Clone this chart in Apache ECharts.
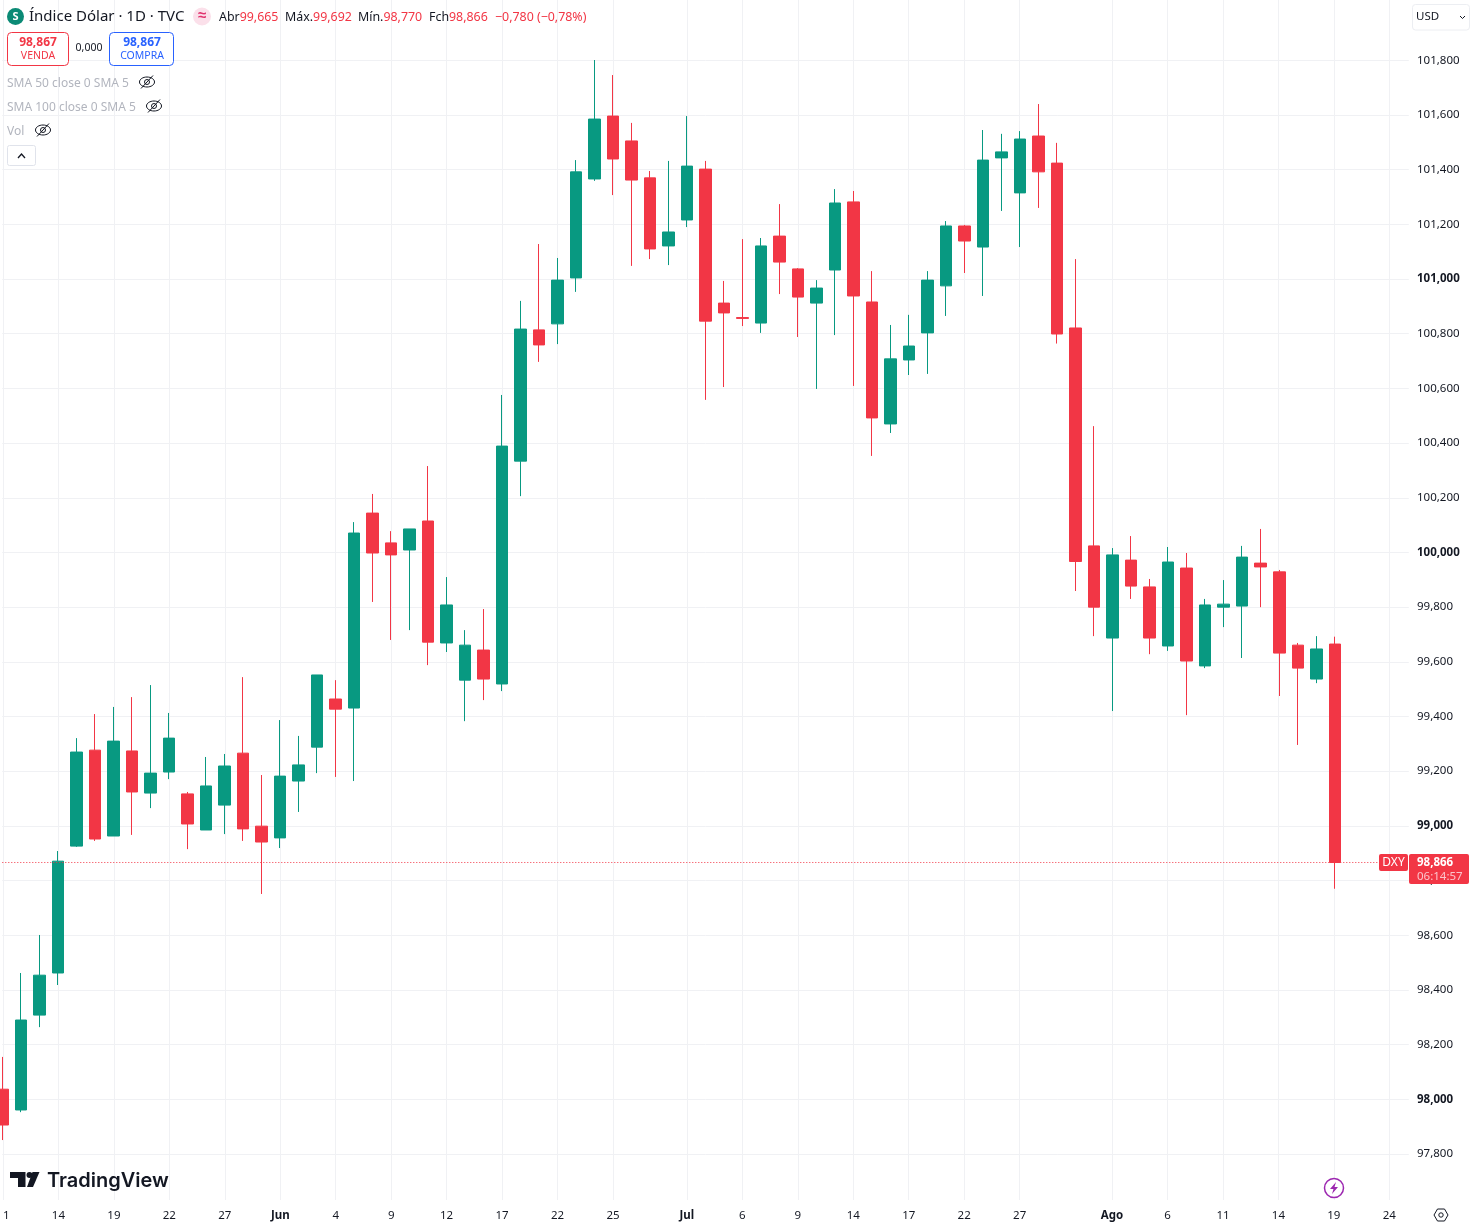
<!DOCTYPE html>
<html>
<head>
<meta charset="utf-8">
<title>Índice Dólar · 1D · TVC</title>
<script src="https://cdn.jsdelivr.net/npm/echarts@6/dist/echarts.min.js"></script>
<style>html,body{margin:0;padding:0;background:#fff}#c{width:1473px;height:1227px}</style>
</head>
<body>
<div id="c"></div>
<script>
const categories = ['1','','','14','','','19','','','22','','','27','','','Jun','','','4','','','9','','','12','','','17','','','22','','','25','','','','Jul','','','6','','','9','','','14','','','17','','','22','','','27','','','','','Ago','','','6','','','11','','','14','','','19','','','24',''];
const monthLabels = ['Jun','Jul','Ago'];
const opens = [98.037,97.961,98.308,98.462,98.926,99.277,98.963,99.274,99.120,99.197,99.117,98.985,99.076,99.266,98.999,98.956,99.164,99.288,99.464,99.431,100.144,100.035,100.009,100.115,99.669,99.533,99.643,99.519,100.334,100.814,100.836,101.004,101.366,101.596,101.505,101.370,101.121,101.216,101.402,100.912,100.859,100.839,101.157,101.037,100.912,101.033,101.282,100.916,100.470,100.704,100.803,100.975,101.194,101.117,101.443,101.315,101.523,101.424,100.821,100.024,99.687,99.972,99.874,99.658,99.943,99.585,99.800,99.804,99.961,99.929,99.661,99.537,99.665];
const closes = [97.906,98.290,98.454,98.871,99.270,98.952,99.310,99.124,99.193,99.321,99.007,99.146,99.219,98.989,98.941,99.182,99.223,99.552,99.427,100.071,99.998,99.991,100.086,99.672,99.808,99.661,99.537,100.389,100.817,100.759,100.996,101.392,101.585,101.439,101.362,101.110,101.172,101.413,100.846,100.876,100.856,101.121,101.062,100.934,100.967,101.278,100.938,100.492,100.708,100.755,100.996,101.194,101.139,101.435,101.465,101.512,101.392,100.799,99.967,99.800,99.991,99.877,99.687,99.965,99.603,99.808,99.811,99.983,99.947,99.632,99.577,99.647,98.866];
const lows = [97.851,97.953,98.264,98.418,98.923,98.945,98.963,98.967,99.065,99.171,98.915,98.985,98.970,98.945,98.751,98.919,99.051,99.193,99.179,99.164,99.819,99.680,99.716,99.588,99.636,99.383,99.460,99.493,100.206,100.697,100.762,100.953,101.359,101.307,101.048,101.073,101.051,101.190,100.558,100.605,100.828,100.803,100.945,100.788,100.598,100.795,100.609,100.353,100.437,100.649,100.653,100.865,101.022,100.938,101.249,101.117,101.260,100.764,99.859,99.694,99.420,99.830,99.628,99.640,99.405,99.577,99.727,99.614,99.800,99.475,99.296,99.522,98.770];
const highs = [98.155,98.462,98.601,98.908,99.321,99.409,99.435,99.471,99.515,99.413,99.124,99.252,99.263,99.544,99.186,99.387,99.329,99.552,99.533,100.111,100.214,100.078,100.086,100.316,99.910,99.716,99.793,100.576,100.920,101.128,101.077,101.435,101.801,101.746,101.571,101.395,101.432,101.596,101.432,100.993,101.146,101.150,101.274,101.040,100.996,101.329,101.322,101.029,100.832,100.869,101.029,101.212,101.198,101.545,101.531,101.541,101.640,101.498,101.073,100.462,100.016,100.060,99.903,100.020,99.998,99.830,99.899,100.024,100.086,99.936,99.669,99.694,99.692];
const lastPrice = 98.866;

const UP = '#089981', DOWN = '#f23645', INK = '#131722', FAINT = '#b2b5be', GRIDLINE = '#f0f1f4';
const UI_FONT = '"Noto Sans", sans-serif';
const candles = opens.map((o, i) => [o, closes[i], lows[i], highs[i]]);
const fmt = v => v.toFixed(3).replace('.', ',');

function label(x, y, text, fill, size, extra) {
  return {type:'text', x, y, silent:true, z:100, style:Object.assign({text, fill, font:`${size}px ${UI_FONT}`, textVerticalAlign:'middle'}, extra||{})};
}
function pair(x, key, val) {
  return {type:'text', x, y:17, silent:true, z:100, style:{
    text:`{k|${key}}{r|${val}}`, textVerticalAlign:'middle',
    rich:{k:{fill:INK, font:`12.4px ${UI_FONT}`}, r:{fill:DOWN, font:`12.4px ${UI_FONT}`}}}};
}
function eye(cx, cy) {
  return [
    {type:'ellipse', silent:true, z:100, shape:{cx, cy, rx:7.5, ry:5}, style:{fill:null, stroke:INK, lineWidth:1}},
    {type:'circle', silent:true, z:100, shape:{cx, cy, r:2.5}, style:{fill:null, stroke:INK, lineWidth:1}},
    {type:'line', silent:true, z:100, shape:{x1:cx-6, y1:cy+6.5, x2:cx+6, y2:cy-6.5}, style:{stroke:INK, lineWidth:1}}
  ];
}

const graphics = [
  {type:'circle', silent:true, z:100, shape:{cx:15.5, cy:16.5, r:8.5}, style:{fill:'#0b8a75'}},
  label(15.5, 16.5, 'S', '#fff', 11, {textAlign:'center', font:`bold 11px ${UI_FONT}`}),
  label(29, 17, 'Índice Dólar · 1D · TVC', INK, 15),
  {type:'circle', silent:true, z:100, shape:{cx:202, cy:16.5, r:9}, style:{fill:'#fbe0ea'}},
  label(202, 16, '≈', '#e0336e', 15, {textAlign:'center', font:`bold 15px ${UI_FONT}`}),
  pair(219, 'Abr', '99,665'),
  pair(285, 'Máx.', '99,692'),
  pair(358, 'Mín.', '98,770'),
  pair(429, 'Fch', '98,866'),
  pair(495, '', '−0,780 (−0,78%)'),
  {type:'rect', silent:true, z:100, shape:{x:7.5, y:32.5, width:61, height:33, r:4}, style:{fill:'#fff', stroke:DOWN, lineWidth:1}},
  label(38, 42.5, '98,867', DOWN, 12, {textAlign:'center', font:`bold 12px ${UI_FONT}`}),
  label(38, 56.5, 'VENDA', DOWN, 10.5, {textAlign:'center'}),
  label(89, 48.5, '0,000', INK, 10.5, {textAlign:'center'}),
  {type:'rect', silent:true, z:100, shape:{x:109.5, y:32.5, width:64, height:33, r:4}, style:{fill:'#fff', stroke:'#2962ff', lineWidth:1}},
  label(142, 42.5, '98,867', '#2962ff', 12, {textAlign:'center', font:`bold 12px ${UI_FONT}`}),
  label(142, 56.5, 'COMPRA', '#2962ff', 10.5, {textAlign:'center'}),
  label(7, 83.5, 'SMA 50 close 0 SMA 5', FAINT, 12),
  ...eye(147, 82),
  label(7, 107.5, 'SMA 100 close 0 SMA 5', FAINT, 12),
  ...eye(154, 106),
  label(7, 131.5, 'Vol', FAINT, 12),
  ...eye(43, 130),
  {type:'rect', silent:true, z:100, shape:{x:7.5, y:145.5, width:28, height:20, r:2}, style:{fill:'#fff', stroke:'#e0e3eb', lineWidth:1}},
  {type:'polyline', silent:true, z:100, shape:{points:[[18,158],[21.5,154],[25,158]]}, style:{fill:null, stroke:INK, lineWidth:1.3}},
  {type:'rect', silent:true, z:100, shape:{x:1412.5, y:4.5, width:57, height:25.5, r:3}, style:{fill:'#fff', stroke:'#eceef2', lineWidth:1}},
  label(1416, 17, 'USD', INK, 11.5),
  {type:'polyline', silent:true, z:100, shape:{points:[[1460,16],[1462.5,18.5],[1465,16]]}, style:{fill:null, stroke:INK, lineWidth:1}},
  {type:'rect', silent:true, z:100, shape:{x:1379, y:854, width:29, height:17, r:2}, style:{fill:DOWN}},
  label(1393.5, 863, 'DXY', '#fff', 12, {textAlign:'center'}),
  {type:'rect', silent:true, z:100, shape:{x:1409, y:854, width:60, height:30, r:2}, style:{fill:DOWN}},
  label(1417, 862.5, '98,866', '#fff', 11.5, {font:`bold 11.5px ${UI_FONT}`}),
  label(1417, 876.5, '06:14:57', '#fbc4cb', 11.5),
  {type:'polygon', silent:true, z:100, shape:{points:[[10,1172],[25.5,1172],[25.5,1187],[18,1187],[18,1178],[10,1178]]}, style:{fill:INK}},
  {type:'circle', silent:true, z:100, shape:{cx:29.5, cy:1175, r:3}, style:{fill:INK}},
  {type:'polygon', silent:true, z:100, shape:{points:[[32.5,1172],[39.5,1172],[33,1187],[27,1187]]}, style:{fill:INK}},
  label(47, 1180.5, 'TradingView', INK, 20, {font:'600 20px Inter, sans-serif'}),
  {type:'circle', silent:true, z:100, shape:{cx:1334, cy:1188, r:9.5}, style:{fill:'#fff', stroke:'#9c27b0', lineWidth:1.5}},
  {type:'polygon', silent:true, z:100, shape:{points:[[1336,1182],[1330,1189],[1333.5,1189],[1332,1194],[1338,1187],[1334.5,1187]]}, style:{fill:'#9c27b0'}},
  {type:'polygon', silent:true, z:100, shape:{points:[[1434,1215],[1437.5,1209],[1444.5,1209],[1448,1215],[1444.5,1221],[1437.5,1221]]}, style:{fill:'#fff', stroke:INK, lineWidth:1}},
  {type:'circle', silent:true, z:100, shape:{cx:1441, cy:1215, r:2.2}, style:{fill:'#fff', stroke:INK, lineWidth:1}}
];

const chart = echarts.init(document.getElementById('c'), null, {renderer:'canvas', width:1473, height:1227});
chart.setOption({
  animation:false,
  backgroundColor:'#fff',
  grid:[
    {left:2.3, width:1406.5, top:5.6, height:1148.4, containLabel:false},
    {left:1.3, width:1406.5, top:0, height:1200, containLabel:false}
  ],
  xAxis:[
    {type:'category', gridIndex:0, data:categories, boundaryGap:false, show:false},
    {type:'category', gridIndex:1, data:categories, boundaryGap:false,
     axisLine:{show:false}, axisTick:{show:false},
     splitLine:{show:true, interval:(i, v) => v !== '', lineStyle:{color:GRIDLINE, width:1}},
     axisLabel:{show:true, interval:(i, v) => v !== '', margin:10, color:INK, fontFamily:UI_FONT, fontSize:11.5, hideOverlap:false,
       alignMinLabel:'left',
       formatter:v => monthLabels.includes(v) ? `{m|${v}}` : v,
       rich:{m:{fontFamily:UI_FONT, fontSize:11.5, fontWeight:'bold', color:INK}}}}
  ],
  yAxis:[
    {type:'value', gridIndex:0, position:'right', min:97.8, max:102, interval:0.2, scale:true,
     axisLine:{show:false}, axisTick:{show:false},
     splitLine:{show:true, showMaxLine:false, lineStyle:{color:GRIDLINE, width:1}},
     axisLabel:{margin:8.2, color:INK, fontFamily:UI_FONT, fontSize:11.5, hideOverlap:false,
       formatter:v => v > 101.9 ? '' : (Math.abs(v - Math.round(v)) < 1e-6 ? `{b|${fmt(v)}}` : fmt(v)),
       rich:{b:{fontFamily:UI_FONT, fontSize:11.5, fontWeight:'bold', color:INK}}}},
    {type:'value', gridIndex:1, show:false, min:0, max:1}
  ],
  series:[{
    type:'candlestick', xAxisIndex:0, yAxisIndex:0, data:candles, barWidth:12, clip:false,
    itemStyle:{color:UP, color0:DOWN, borderColor:UP, borderColor0:DOWN, borderWidth:1},
    markLine:{silent:true, symbol:'none', animation:false, precision:3, label:{show:false},
      lineStyle:{color:DOWN, type:[1,2], width:1, opacity:1},
      emphasis:{disabled:true},
      data:[{yAxis:lastPrice, lineStyle:{color:DOWN, type:[1,2], width:1, opacity:1}}]}
  }],
  graphic:graphics
});
</script>
</body>
</html>
